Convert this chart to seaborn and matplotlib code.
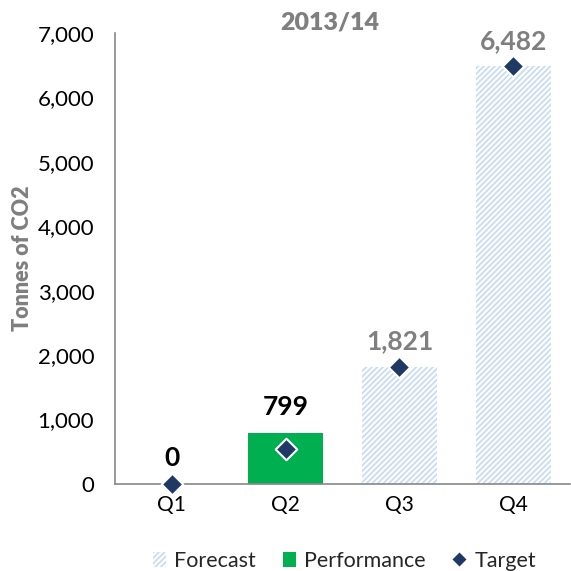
import pandas as pd
import numpy as np
import matplotlib
matplotlib.use("Agg")
import matplotlib.pyplot as plt
from matplotlib.patches import Patch
from matplotlib.lines import Line2D
import seaborn as sns

quarters = ["Q1", "Q2", "Q3", "Q4"]
forecast = [0, 0, 1821, 6482]
performance = [0, 799, 0, 0]
target = [0, 543, 1821, 6482]
labels = ["0", "799", "1,821", "6,482"]
label_is_actual = [True, True, False, False]

GREEN = "#00b050"
NAVY = "#1f3864"
HATCH = "#c9dcf2"
GREY = "#7f7f7f"

sns.set_theme(style="white")
plt.rcParams["font.family"] = ["Lato", "DejaVu Sans"]
plt.rcParams["hatch.linewidth"] = 1.3

df = pd.DataFrame({"quarter": quarters, "forecast": forecast,
                   "performance": performance, "target": target})

fig = plt.figure(figsize=(5.71, 5.71), dpi=100)
ax = fig.add_axes([0.2014, 0.1524, 0.797, 0.7898])

# forecast bars (hatched)
sns.barplot(data=df, x="quarter", y="forecast", color="white", width=0.66,
            ax=ax, saturation=1)
for p in ax.patches:
    p.set_hatch("//////")
    p.set_edgecolor(HATCH)
    p.set_linewidth(0)
n_fc = len(ax.patches)

# actual performance
sns.barplot(data=df, x="quarter", y="performance", color=GREEN, width=0.66,
            ax=ax, saturation=1)
for p in ax.patches[n_fc:]:
    p.set_linewidth(0)

# targets
sns.scatterplot(data=df, x="quarter", y="target", marker="D", s=120,
                color=NAVY, edgecolor="white", linewidth=1.5, ax=ax, zorder=5)
for c in ax.collections:
    c.set_clip_on(False)

for i, (lab, act) in enumerate(zip(labels, label_is_actual)):
    top = max(forecast[i], performance[i], target[i])
    ax.text(i, top + 210, lab, ha="center", va="bottom",
            fontsize=19, fontweight="bold", color="black" if act else GREY)

ax.set_ylim(0, 7000)
ax.set_xlim(-0.5, 3.5)
ax.set_yticks(range(0, 7001, 1000))
ax.set_yticklabels([f"{v:,}" for v in range(0, 7001, 1000)])
ax.set_xticks(range(4))
ax.set_xticklabels(quarters)
ax.set_xticks([0.5, 1.5, 2.5, 3.5], minor=True)
ax.tick_params(axis="x", which="major", length=0, labelsize=15, pad=8, labelcolor="black")
ax.tick_params(axis="x", which="minor", length=6, width=1, color="#888888", direction="out")
ax.tick_params(axis="y", length=6, width=1, color="#888888", direction="out",
               labelsize=16, pad=9, labelcolor="black")
ax.set_xlabel("")
ax.set_ylabel("Tonnes of CO2", fontsize=15.5, fontweight="heavy", color=GREY, labelpad=3)
for s in ["top", "right"]:
    ax.spines[s].set_visible(False)
for s in ["left", "bottom"]:
    ax.spines[s].set_color("#888888")
    ax.spines[s].set_linewidth(1.2)

fig.text(0.578, 0.961, "2013/14", ha="center", va="center", fontsize=18,
         fontweight="heavy", color=GREY)

handles = [
    Patch(facecolor="white", edgecolor=HATCH, hatch="//////", linewidth=0, label="Forecast"),
    Patch(facecolor=GREEN, edgecolor="none", label="Performance"),
    Line2D([], [], marker="D", color=NAVY, linestyle="none", markersize=8,
           markeredgecolor="white", label="Target"),
]
fig.legend(handles=handles, loc="center", bbox_to_anchor=(0.603, 0.018), ncol=3,
           frameon=False, fontsize=15.5, handlelength=0.6, handleheight=0.7,
           handletextpad=0.4, columnspacing=1.25)

fig.savefig("out.png", dpi=100)
